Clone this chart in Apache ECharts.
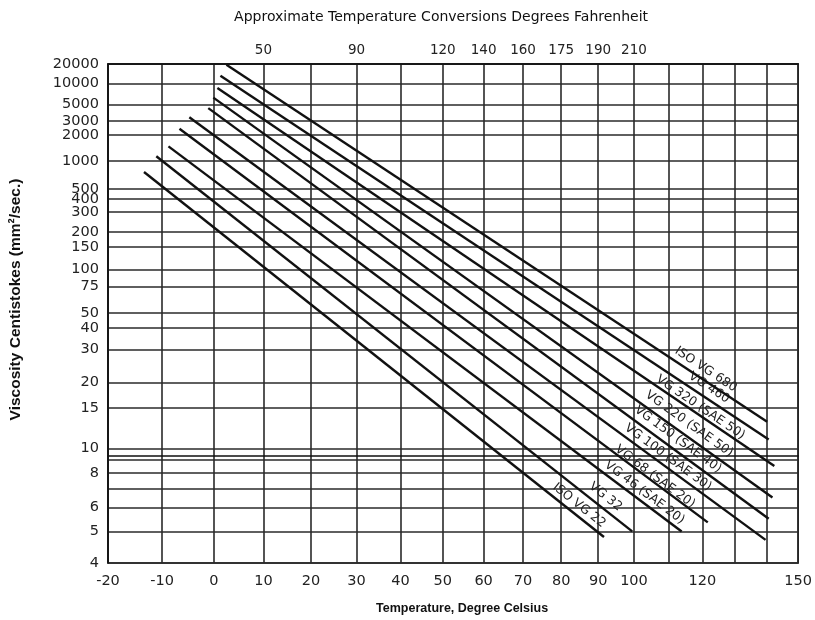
<!DOCTYPE html>
<html><head><meta charset="utf-8">
<script src="https://cdn.jsdelivr.net/npm/echarts@6/dist/echarts.min.js"></script>
<style>html,body{margin:0;padding:0;background:#fff}#c{width:815px;height:620px}</style>
</head><body><div id="c"></div>
<script>
// ---- data ----
const grades = ['ISO VG 22','VG 32','VG 46 (SAE 20)','VG 68 (SAE 20)','VG 100 (SAE 30)','VG 150 (SAE 40)','VG 220 (SAE 50)','VG 320 (SAE 50)','VG 460','ISO VG 680'];
const startTemp = [-13.4, -11.1, -8.8, -6.7, -4.8, -1.1, -0.1, 0.7, 1.3, 2.5];
const startVisc = [755, 1124, 1463, 2406, 3364, 4463, 6239, 8600, 13140, 19520];
const endTemp   = [91.6, 99.5, 113.8, 121.6, 139.5, 140.5, 141.7, 142.3, 140.5, 140.0];
const endVisc   = [4.8, 5.0, 5.0, 5.35, 4.7, 5.5, 6.5, 8.5, 10.9, 13.0];
const labelTemp = [84.8, 92, 103, 106, 109.8, 112.7, 116, 119.4, 122, 121];
const labelVisc = [6.1, 6.54, 6.77, 7.74, 9.2, 10.9, 12.7, 15.1, 18.8, 23.3];

const celsiusGrid   = [-20,-10,0,10,20,30,40,50,60,70,80,90,100,110,120,130,140,150];
const celsiusLabels = [-20,-10,0,10,20,30,40,50,60,70,80,90,100,120,150];
const viscGrid   = [20000,10000,5000,3000,2000,1000,500,400,300,200,150,100,75,50,40,30,20,15,10,9,8,7,6,5,4];
const viscLabels = [20000,10000,5000,3000,2000,1000,500,400,300,200,150,100,75,50,40,30,20,15,10,8,6,5,4];
const fahrenheitAt     = [10,30,50,60,70,80,90,100];
const fahrenheitLabels = ['50','90','120','140','160','175','190','210'];

// ---- chart scales (viscosity-temperature chart) ----
const TX = t => Math.log10(t + 230);
const TY = v => Math.log10(Math.log10(v + 0.7));
const invX = x => Math.pow(10, x) - 230;
const invY = y => Math.pow(10, Math.pow(10, y)) - 0.7;

const FONT = 'DejaVu Sans';
const BFONT = 'Liberation Sans';
const chart = echarts.init(document.getElementById('c'), null, {renderer:'canvas'});

const xmin = TX(-20), xmax = TX(150), ymin = TY(4), ymax = TY(20000);

const series = grades.map((g, i) => ({
  type: 'line',
  name: g,
  symbol: 'none',
  silent: true,
  lineStyle: {color: '#111', width: 2.4},
  data: [[TX(startTemp[i]), TY(startVisc[i])], [TX(endTemp[i]), TY(endVisc[i])]],
  z: 5
}));

const option = {
  animation: false,
  backgroundColor: '#fff',
  textStyle: {fontFamily: FONT},
  grid: {left: 107, right: 12, top: 64, bottom: 57, show: true, borderColor: '#111', borderWidth: 1.6, backgroundColor: 'transparent'},
  xAxis: [{
    type: 'value', min: xmin, max: xmax, position: 'bottom',
    axisLine: {show: true, lineStyle: {color: '#111', width: 1.6}},
    axisTick: {show: false, customValues: celsiusGrid.map(TX)},
    axisLabel: {customValues: celsiusLabels.map(TX), formatter: v => String(Math.round(invX(v))), color: '#222', fontSize: 14.5, margin: 11, fontFamily: FONT},
    splitLine: {show: true, lineStyle: {color: '#2a2a2a', width: 1.6}},
    name: 'Temperature, Degree Celsius', nameLocation: 'middle', nameGap: 39,
    nameTextStyle: {fontSize: 12.5, fontWeight: 'bold', color: '#111', fontFamily: BFONT, padding: [0, 0, 0, 18]}
  }, {
    type: 'value', min: xmin, max: xmax, position: 'top',
    axisLine: {show: true, lineStyle: {color: '#111', width: 1.6}},
    axisTick: {show: false, customValues: fahrenheitAt.map(TX)},
    axisLabel: {customValues: fahrenheitAt.map(TX), formatter: v => {
      const i = fahrenheitAt.indexOf(Math.round(invX(v)));
      return i >= 0 ? fahrenheitLabels[i] : '';
    }, color: '#222', fontSize: 13.5, margin: 7, fontFamily: FONT},
    splitLine: {show: false},
    name: 'Approximate Temperature Conversions Degrees Fahrenheit', nameLocation: 'middle', nameGap: 40,
    nameTextStyle: {fontSize: 14, color: '#111', fontFamily: FONT, padding: [0, 24, 0, 0]}
  }],
  yAxis: [{
    type: 'value', min: ymin, max: ymax,
    axisLine: {show: true, lineStyle: {color: '#111', width: 1.6}},
    axisTick: {show: false, customValues: viscGrid.map(TY)},
    axisLabel: {customValues: viscLabels.map(TY), formatter: v => String(Math.round(invY(v))), color: '#222', fontSize: 14.5, margin: 9, fontFamily: FONT},
    splitLine: {show: true, lineStyle: {color: '#2a2a2a', width: 1.6}},
    name: 'Viscosity Centistokes (mm²/sec.)', nameLocation: 'middle', nameGap: 84, nameRotate: 90,
    nameTextStyle: {fontSize: 15.5, fontWeight: 'bold', color: '#111', fontFamily: BFONT, padding: [0, 0, 0, 28]}
  }],
  series: series
};
chart.setOption(option);

// labels along each line, rotated to the line's on-screen slope
const upd = grades.map((g, i) => {
  const p0 = chart.convertToPixel({xAxisIndex: 0, yAxisIndex: 0}, [TX(startTemp[i]), TY(startVisc[i])]);
  const p1 = chart.convertToPixel({xAxisIndex: 0, yAxisIndex: 0}, [TX(endTemp[i]), TY(endVisc[i])]);
  const ang = -Math.atan2(p1[1] - p0[1], p1[0] - p0[0]) * 180 / Math.PI;
  return {
    markPoint: {
      symbol: 'circle', symbolSize: 0, silent: true,
      data: [{coord: [TX(labelTemp[i]), TY(labelVisc[i])], value: g}],
      label: {show: true, position: 'inside', formatter: g, rotate: ang, color: '#222', fontSize: 12.5, fontFamily: FONT}
    }
  };
});
chart.setOption({series: upd});
</script>
</body></html>
